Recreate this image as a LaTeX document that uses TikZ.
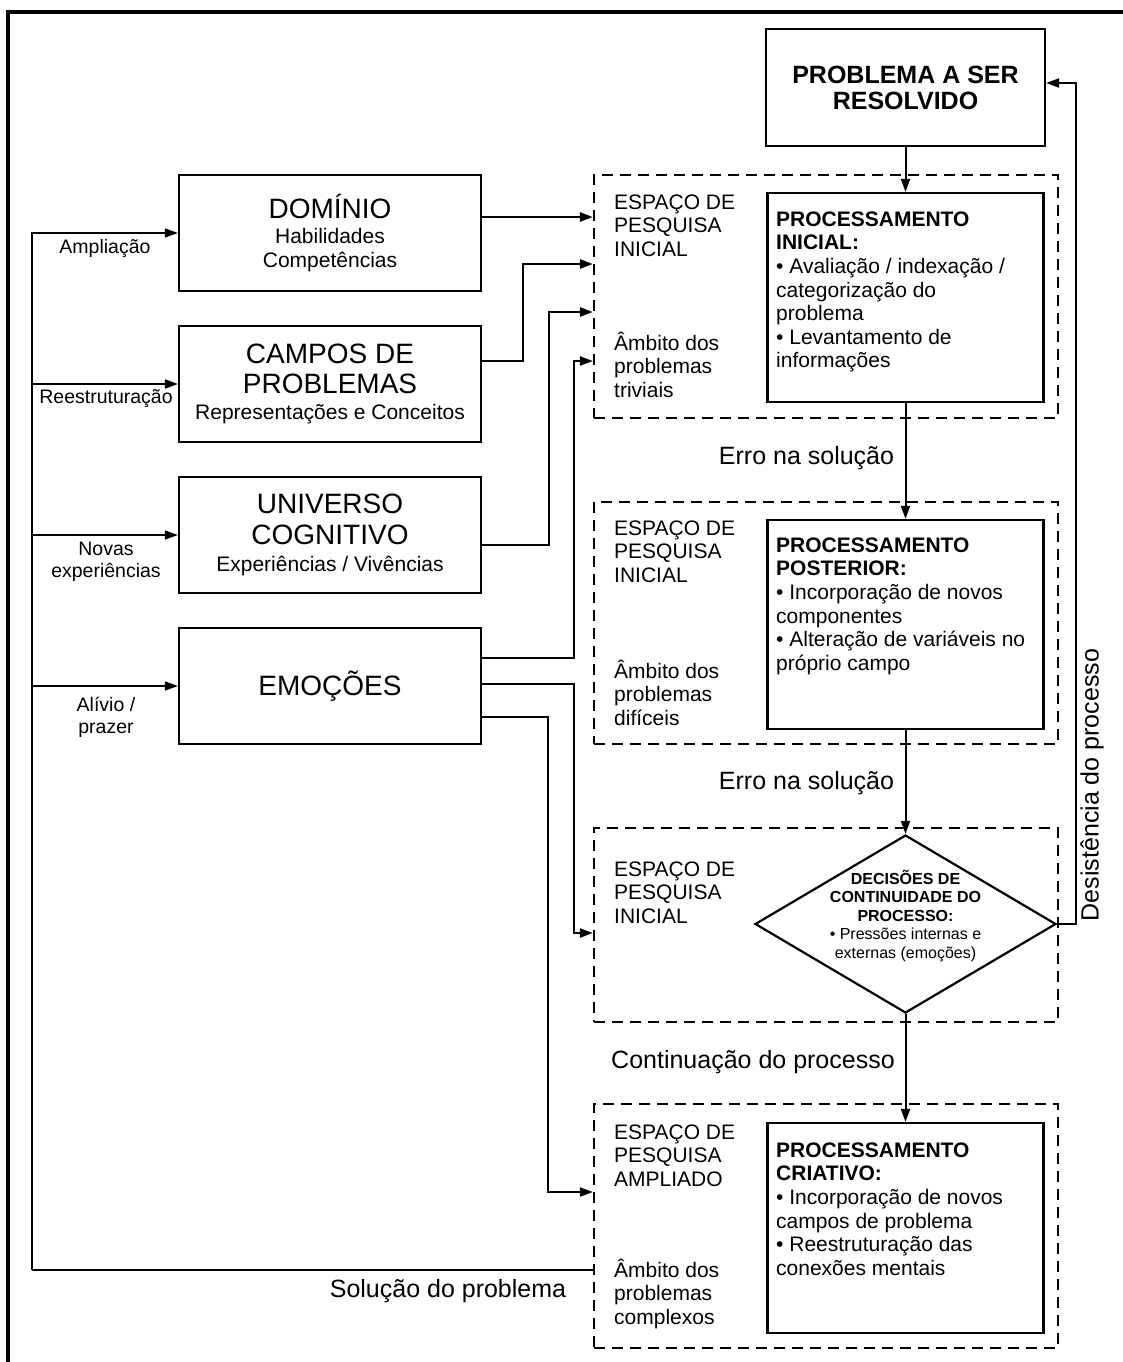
\documentclass[tikz,border=0pt]{standalone}
\usepackage{fontspec}
\setmainfont{Liberation Sans}
\usetikzlibrary{arrows.meta,shapes.geometric,calc}
\begin{document}
\begin{tikzpicture}[x=1pt,y=-1pt,
  box/.style={draw, line width=2.2pt, align=center, inner sep=0pt, font=\fontsize{21}{25}\selectfont},
  bigbox/.style={box, minimum width=302pt, minimum height=116pt},
  procbox/.style={draw, line width=2.2pt, minimum width=276pt, minimum height=209pt, inner sep=0pt},
  zone/.style={draw, dash pattern=on 11pt off 7pt, line width=2.2pt, minimum width=464pt, inner sep=0pt},
  txt/.style={font=\fontsize{21}{23.6}\selectfont, align=left, inner sep=0pt, anchor=north west},
  lbl/.style={font=\fontsize{19.5}{22}\selectfont, align=center, inner sep=0pt},
  big/.style={font=\fontsize{25}{27}\selectfont, inner sep=0pt},
  arr/.style={-{Triangle[length=13pt,width=9pt]}},
  conn/.style={line width=2.7pt},
  emoline/.style={line width=2.2pt},
  vline/.style={line width=2pt}
]
\useasboundingbox (0,0) rectangle (1122,1362);
% frame
\draw[line width=4pt] (8,1366) -- (8,12) -- (1126,12);

% zones
\node[zone, minimum height=243pt] (d1) at (826,296.5) {};
\node[zone, minimum height=242pt] (d2) at (826,623) {};
\node[zone, minimum height=194pt] (d3) at (826,925) {};
\node[zone, minimum height=244pt] (d4) at (826,1226) {};

% top problem
\node[box, minimum width=279pt, minimum height=117pt, font=\bfseries\fontsize{25}{26}\selectfont] (prob) at (905.5,87.5) {PROBLEMA A SER\\RESOLVIDO};

% processing boxes
\node[procbox] (p1) at (905.5,297.5) {};
\node[procbox] (p2) at (905.5,624.5) {};
\node[procbox, minimum height=210pt] (p4) at (905.5,1228) {};
\node[draw, diamond, line width=2.2pt, minimum width=301pt, minimum height=178pt, inner sep=0pt] (dec) at (905.5,924) {};

% texts in zones
\node[txt] (t1a) at (614,190) {\rule{0pt}{19pt}ESPAÇO DE\\PESQUISA\\INICIAL};
\node[txt] (t1b) at (614,331) {\rule{0pt}{19pt}Âmbito dos\\problemas\\triviais};
\node[txt] (t1c) at (776,207) {\rule{0pt}{19pt}\textbf{PROCESSAMENTO}\\\textbf{INICIAL:}\\• Avaliação / indexação /\\categorização do\\problema\\• Levantamento de\\informações};

\node[txt] (t2a) at (614,516) {\rule{0pt}{19pt}ESPAÇO DE\\PESQUISA\\INICIAL};
\node[txt] (t2b) at (614,659) {\rule{0pt}{19pt}Âmbito dos\\problemas\\difíceis};
\node[txt] (t2c) at (776,533) {\rule{0pt}{19pt}\textbf{PROCESSAMENTO}\\\textbf{POSTERIOR:}\\• Incorporação de novos\\componentes\\• Alteração de variáveis no\\próprio campo};

\node[txt] (t3a) at (614,857) {\rule{0pt}{19pt}ESPAÇO DE\\PESQUISA\\INICIAL};
\node[font=\fontsize{16}{18.5}\selectfont, align=center, inner sep=0pt] (dect) at (905.5,916) {\textbf{DECISÕES DE}\\\textbf{CONTINUIDADE DO}\\\textbf{PROCESSO:}\\• Pressões internas e\\externas (emoções)};

\node[txt] (t4a) at (614,1120) {\rule{0pt}{19pt}ESPAÇO DE\\PESQUISA\\AMPLIADO};
\node[txt] (t4b) at (614,1258) {\rule{0pt}{19pt}Âmbito dos\\problemas\\complexos};
\node[txt] (t4c) at (776,1138) {\rule{0pt}{19pt}\textbf{PROCESSAMENTO}\\\textbf{CRIATIVO:}\\• Incorporação de novos\\campos de problema\\• Reestruturação das\\conexões mentais};

% left boxes
\node[bigbox] (dom) at (330,233) {{\fontsize{28}{30}\selectfont DOMÍNIO}\\[0.5pt]Habilidades\\[-1pt]Competências};
\node[bigbox] (cam) at (330,384) {{\fontsize{28}{30}\selectfont CAMPOS DE}\\[5pt]{\fontsize{28}{30}\selectfont PROBLEMAS}\\[1.5pt]Representações e Conceitos};
\node[bigbox] (uni) at (330,535) {{\fontsize{28}{30}\selectfont UNIVERSO}\\[6pt]{\fontsize{28}{30}\selectfont COGNITIVO}\\[1.5pt]Experiências / Vivências};
\node[bigbox, font=\fontsize{28}{30}\selectfont] (emo) at (330,686) {EMOÇÕES};

% labels
\node[lbl] (l1) at (105,248) {Ampliação};
\node[lbl] (l2) at (106,399) {Reestruturação};
\node[lbl] (l3) at (106,562) {Novas\\experiências};
\node[lbl] (l4) at (106,717) {Alívio /\\prazer};
\node[big] (e1) at (806.5,458) {Erro na solução};
\node[big] (e2) at (806.5,783) {Erro na solução};
\node[big] (cont) at (753,1062) {Continuação do processo};
\node[big] (sol) at (448,1291) {Solução do problema};
\node[big, rotate=90] (desis) at (1092,785) {Desistência do processo};

% vertical process arrows
\draw[vline, arr] (prob.south) -- (p1.north);
\draw[vline, arr] (p1.south) -- (p2.north);
\draw[vline, arr] (p2.south) -- (dec.north);
\draw[vline, arr] (dec.south) -- (p4.north);

% return arrow
\coordinate (rt) at (1076,83);
\draw[vline, arr] (dec.east) -| (rt) -- (rt -| prob.east);

% boxes to zone 1
\coordinate (domout) at ([yshift=16pt]dom.east);
\draw[conn, arr] (domout) -- (domout -| d1.west);
\coordinate (camout) at ([yshift=23pt]cam.east);
\coordinate (d1b) at ([yshift=32.5pt]d1.west);
\draw[conn, arr] (camout) -- ++(41,0) |- (d1b);
\coordinate (uniout) at ([yshift=-10pt]uni.east);
\coordinate (d1c) at ([yshift=-15.5pt]d1.west);
\draw[conn, arr] (uniout) -- ++(67,0) |- (d1c);

% emotions
\coordinate (emoA) at ([yshift=28pt]emo.east);
\coordinate (d1d) at ([yshift=-64.5pt]d1.west);
\draw[emoline, arr] (emoA) -- ++(92,0) |- (d1d);
\coordinate (emoB) at ([yshift=2pt]emo.east);
\coordinate (d3a) at ([yshift=-8pt]d3.west);
\draw[emoline, arr] (emoB) -- ++(92,0) |- (d3a);
\coordinate (emoC) at ([yshift=-31pt]emo.east);
\coordinate (d4a) at ([yshift=34pt]d4.west);
\draw[emoline, arr] (emoC) -- ++(66,0) |- (d4a);

% solution feedback loop
\coordinate (solin) at ([yshift=-44pt]d4.west);
\coordinate (lb) at (32,1270);
\draw[line width=2.5pt] (solin) -- (lb);
\draw[line width=1.3pt, arr] (lb) |- (dom.west);
\draw[line width=2pt, arr] (lb |- cam.west) -- (cam.west);
\draw[line width=1.5pt, arr] (lb |- uni.west) -- (uni.west);
\draw[line width=1.5pt, arr] (lb |- emo.west) -- (emo.west);
\end{tikzpicture}
\end{document}
